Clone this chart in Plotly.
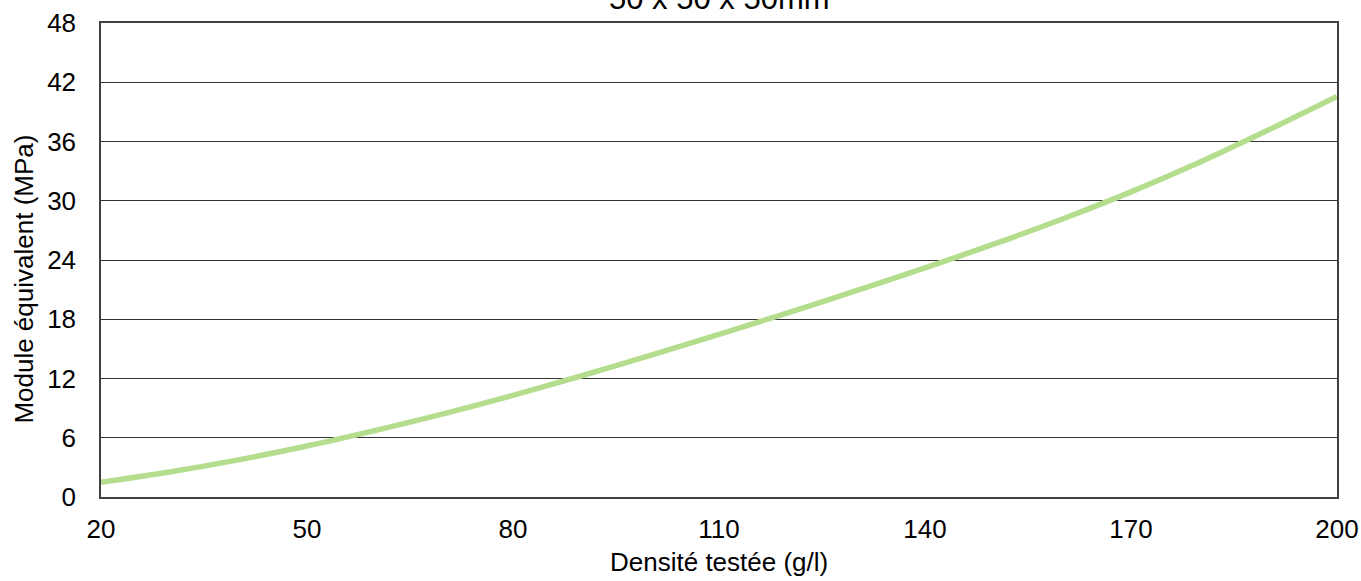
import plotly.graph_objects as go

density = [20, 30, 40, 50, 60, 70, 80, 90, 100, 110, 120, 130, 140, 150, 160, 170, 180, 190, 200]
module = [1.5, 2.54, 3.76, 5.16, 6.74, 8.44, 10.3, 12.28, 14.35, 16.48, 18.65, 20.9, 23.2, 25.6, 28.15, 30.9, 33.9, 37.16, 40.56]

x_ticks = [20, 50, 80, 110, 140, 170, 200]
y_ticks = [0, 6, 12, 18, 24, 30, 36, 42, 48]

FONT = "Liberation Sans, Arial, sans-serif"

fig = go.Figure()
fig.add_trace(go.Scatter(
    x=density, y=module, mode="lines",
    line=dict(color="#b4de8e", width=5.5, shape="spline", smoothing=0.8),
    showlegend=False, hoverinfo="skip"))

fig.update_layout(
    width=1361, height=581,
    margin=dict(l=101, r=24, t=23, b=84),
    paper_bgcolor="white", plot_bgcolor="white",
    font=dict(family=FONT, size=26, color="black"),
    showlegend=False,
)
fig.update_xaxes(
    range=[20, 200], tickvals=x_ticks, ticktext=[str(v) for v in x_ticks],
    showgrid=False, zeroline=False, automargin=False,
    showline=True, linecolor="#404040", linewidth=1.5, mirror=True,
    ticks="", tickfont=dict(size=26), ticklabelstandoff=8,
)
fig.update_yaxes(
    range=[0, 48], tickvals=y_ticks, ticktext=[str(v) for v in y_ticks],
    showgrid=True, gridcolor="#333333", gridwidth=1, zeroline=False, automargin=False,
    showline=True, linecolor="#404040", linewidth=1.5, mirror=True,
    ticks="", tickfont=dict(size=26), ticklabelstandoff=18,
)
fig.add_annotation(
    text="50 x 50 x 50mm", xref="paper", yref="paper", x=0.5, y=1,
    yanchor="middle", yshift=25, showarrow=False, font=dict(size=31, family=FONT))
fig.add_annotation(
    text="Densité testée (g/l)", xref="paper", yref="paper", x=0.5, y=0,
    yanchor="middle", yshift=-65, showarrow=False, font=dict(size=26, family=FONT))
fig.add_annotation(
    text="Module équivalent (MPa)", xref="paper", yref="paper", x=0, y=0.4586,
    xanchor="center", yanchor="middle", xshift=-77, textangle=-90,
    showarrow=False, font=dict(size=26, family=FONT))

fig.write_html("out.html", config={"displayModeBar": False},
               post_script="document.body.style.margin='0px';")
